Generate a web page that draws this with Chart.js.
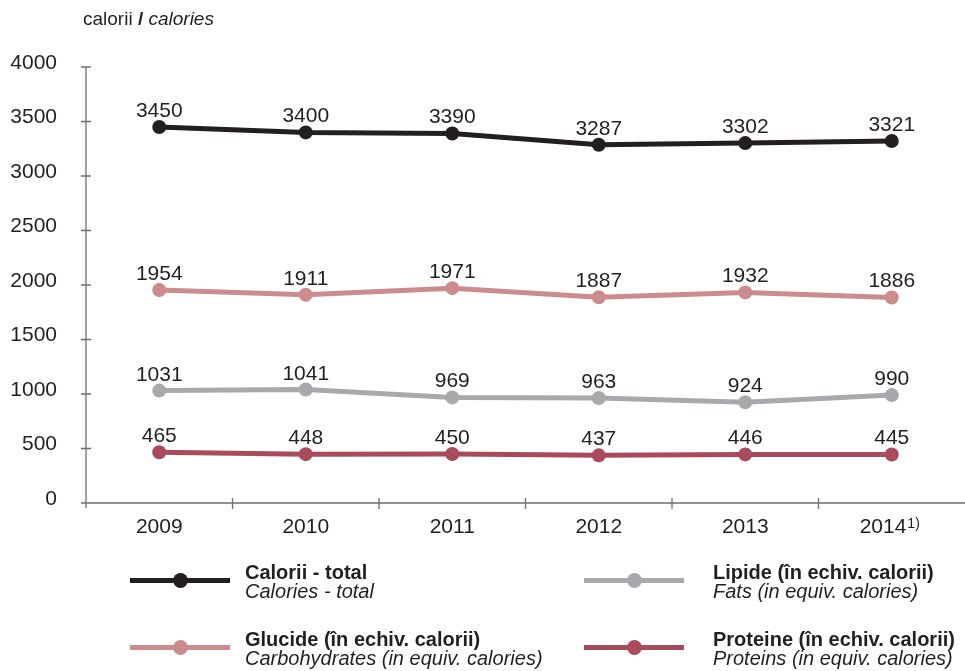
<!DOCTYPE html>
<html>
<head>
<meta charset="utf-8">
<script src="https://cdn.jsdelivr.net/npm/chart.js@4"></script>
<style>
  body { margin: 0; background: #fff; font-family: "Liberation Sans", Arial, sans-serif; color: #231f20; overflow: hidden; }
  #wrap { position: relative; width: 965px; height: 671px; overflow: hidden; }
  canvas { display: block; }
  #title { position: absolute; left: 83px; top: 8px; font-size: 19px; }
  .leg { position: absolute; font-size: 20px; line-height: 19px; }
  .leg b { display: block; }
  .leg i { display: block; }
  .sw { position: absolute; width: 100px; height: 5px; }
  .sw span { position: absolute; left: 43px; top: -5px; width: 15px; height: 15px; border-radius: 50%; }
</style>
</head>
<body>
<div id="wrap">
  <canvas id="myChart" width="972" height="671"></canvas>
  <div id="title">calorii <b>/</b> <i>calories</i></div>
  <div id="legend"></div>
</div>
<script>
const years = ['2009', '2010', '2011', '2012', '2013', '2014'];
const total = [3450, 3400, 3390, 3287, 3302, 3321];
const glucide = [1954, 1911, 1971, 1887, 1932, 1886];
const lipide = [1031, 1041, 969, 963, 924, 990];
const proteine = [465, 448, 450, 437, 446, 445];
const seriesNames = ['Calorii - total', 'Glucide (în echiv. calorii)', 'Lipide (în echiv. calorii)', 'Proteine (în echiv. calorii)'];
const seriesNamesEn = ['Calories - total', 'Carbohydrates (in equiv. calories)', 'Fats (in equiv. calories)', 'Proteins (in equiv. calories)'];
const colors = ['#231f20', '#cc8b8d', '#a7a9ac', '#a94b5b'];

const FONT = '"Liberation Sans", Arial, sans-serif';
const PAD = '   '; // room for the 1) note after 2014

// axes + data labels
const axesPlugin = {
    id: 'axesPlugin',
    afterDatasetsDraw(chart) {
        const ctx = chart.ctx;
        const x = chart.scales.x, y = chart.scales.y;
        const a = chart.chartArea;
        ctx.save();
        ctx.strokeStyle = '#6d6e71';
        ctx.lineWidth = 1.3;
        ctx.beginPath();
        ctx.moveTo(a.left, a.top);
        ctx.lineTo(a.left, a.bottom + 5);
        ctx.moveTo(a.left - 5, a.bottom);
        ctx.lineTo(a.right, a.bottom);
        y.ticks.forEach(t => {
            const py = y.getPixelForValue(t.value);
            ctx.moveTo(a.left - 5, py);
            ctx.lineTo(a.left + 5, py);
        });
        for (let i = 1; i < years.length; i++) {
            const px = (x.getPixelForValue(i - 1) + x.getPixelForValue(i)) / 2;
            ctx.moveTo(px, a.bottom - 5);
            ctx.lineTo(px, a.bottom + 6);
        }
        ctx.stroke();

        ctx.fillStyle = '#231f20';
        ctx.font = '21px ' + FONT;
        ctx.textAlign = 'center';
        ctx.textBaseline = 'alphabetic';
        chart.data.datasets.forEach((ds, di) => {
            const meta = chart.getDatasetMeta(di);
            meta.data.forEach((pt, i) => {
                ctx.fillText(String(ds.data[i]), pt.x, pt.y - 10);
            });
        });

        // footnote mark on last year
        const last = years.length - 1;
        const lx = x.getPixelForValue(last);
        const full = ctx.measureText(years[last] + PAD).width;
        const w = ctx.measureText(years[last]).width;
        ctx.font = '14px ' + FONT;
        ctx.textAlign = 'left';
        ctx.fillText('1)', lx - full / 2 + w + 1, a.bottom + 25);
        ctx.restore();
    }
};

function mk(label, data, color) {
    return {
        label: label,
        data: data,
        borderColor: color,
        backgroundColor: color,
        borderWidth: 5,
        pointRadius: 7,
        pointHoverRadius: 7,
        pointBorderWidth: 0,
        tension: 0,
        fill: false
    };
}

new Chart(document.getElementById('myChart'), {
    type: 'line',
    data: {
        labels: years,
        datasets: [
            mk(seriesNames[0], total, colors[0]),
            mk(seriesNames[1], glucide, colors[1]),
            mk(seriesNames[2], lipide, colors[2]),
            mk(seriesNames[3], proteine, colors[3])
        ]
    },
    options: {
        responsive: false,
        animation: false,
        events: [],
        layout: { padding: { top: 67, right: 0, bottom: 128, left: 0 } },
        plugins: { legend: { display: false }, tooltip: { enabled: false } },
        scales: {
            x: {
                offset: true,
                grid: { display: false },
                border: { display: false },
                ticks: {
                    color: '#231f20', font: { size: 21, family: FONT }, padding: 4, maxRotation: 0,
                    callback: (v, i) => i === years.length - 1 ? years[i] + PAD : years[i]
                },
                afterFit(s) { s.height = 40; s.paddingLeft = 0; s.paddingRight = 0; }
            },
            y: {
                min: 0,
                max: 4000,
                grid: { display: false },
                border: { display: false },
                ticks: {
                    stepSize: 500, color: '#231f20', font: { size: 21, family: FONT }, padding: 21,
                    labelOffset: -4,
                    callback: v => String(v)
                },
                afterFit(s) { s.width = 86; }
            }
        }
    },
    plugins: [axesPlugin]
});

// legend
const legPos = [[130, 572, 245], [130, 639, 245], [584, 572, 713], [584, 639, 713]];
const legend = document.getElementById('legend');
legPos.forEach((p, i) => {
    const sw = document.createElement('div');
    sw.className = 'sw';
    sw.style.left = p[0] + 'px';
    sw.style.top = (p[1] + 6) + 'px';
    sw.style.background = colors[i];
    const dot = document.createElement('span');
    dot.style.background = colors[i];
    sw.appendChild(dot);
    legend.appendChild(sw);
    const t = document.createElement('div');
    t.className = 'leg';
    t.style.left = p[2] + 'px';
    t.style.top = (p[1] - 9) + 'px';
    t.innerHTML = '<b>' + seriesNames[i] + '</b><i>' + seriesNamesEn[i] + '</i>';
    legend.appendChild(t);
});
</script>
</body>
</html>
